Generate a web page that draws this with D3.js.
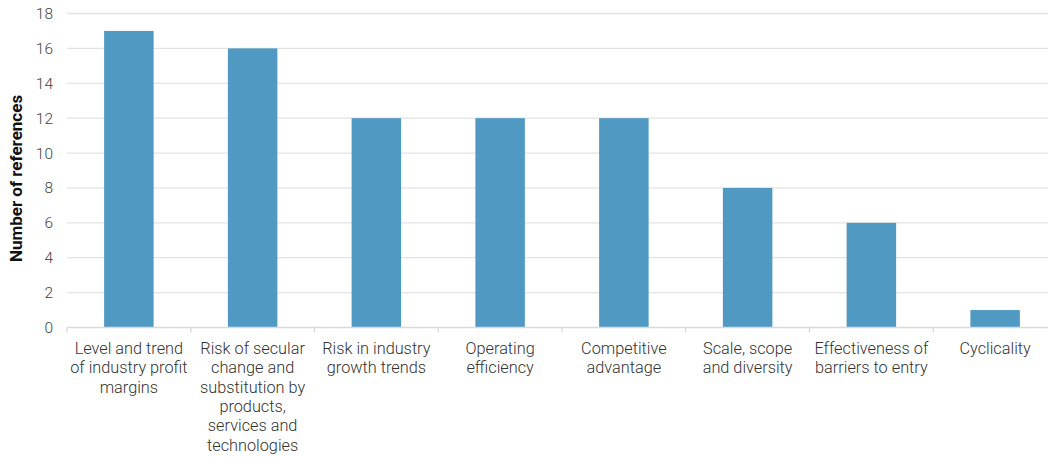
<!DOCTYPE html>
<html><head><meta charset="utf-8">
<script src="https://cdn.jsdelivr.net/npm/d3@7"></script>
<style>body{margin:0;background:#fff}svg{display:block}</style>
</head><body>
<script>
const categories = [
  "Level and trend|of industry profit|margins",
  "Risk of secular|change and|substitution by|products,|services and|technologies",
  "Risk in industry|growth trends",
  "Operating|efficiency",
  "Competitive|advantage",
  "Scale, scope|and diversity",
  "Effectiveness of|barriers to entry",
  "Cyclicality"
];
const values = [17, 16, 12, 12, 12, 8, 6, 1];
const yTicks = [0, 2, 4, 6, 8, 10, 12, 14, 16, 18];
const yTitle = "Number of references";

const W = 1048, H = 458;
const svg = d3.select("body").append("svg").attr("width", W).attr("height", H)
  .style("font-family", "Roboto, 'Noto Sans', sans-serif");

const x = d3.scaleBand().domain(d3.range(categories.length)).range([67, 1057]).paddingInner(0.6).paddingOuter(0.3);
const xb = d3.scaleBand().domain(d3.range(categories.length)).range([67, 1057]);
const y = d3.scaleLinear().domain([0, 18]).range([327.5, 13.5]);

// gridlines
svg.append("g").selectAll("line").data(yTicks.filter(d => d > 0)).join("line")
  .attr("x1", 67).attr("x2", W).attr("y1", d => y(d)).attr("y2", d => y(d))
  .attr("stroke", "#e3e3e3").attr("stroke-width", 1.3);

// y axis labels
const yAxis = svg.append("g").attr("transform", "translate(53,0)")
  .call(d3.axisLeft(y).tickValues(yTicks).tickSize(0).tickPadding(0));
yAxis.select(".domain").remove();
yAxis.selectAll("text").attr("font-size", 15.5).attr("fill", "#444").style("font-family", "Roboto, sans-serif").style("font-weight", 300);

// bars
svg.append("g").selectAll("rect").data(values).join("rect")
  .attr("x", (d, i) => x(i)).attr("width", x.bandwidth())
  .attr("y", d => y(d)).attr("height", d => y(0) - y(d))
  .attr("fill", "#4f99c2");

// x axis baseline and ticks
svg.append("line").attr("x1", 67).attr("x2", W).attr("y1", y(0)).attr("y2", y(0))
  .attr("stroke", "#d9d9d9").attr("stroke-width", 1.3);
svg.append("g").selectAll("line").data(d3.range(categories.length)).join("line")
  .attr("x1", i => xb(i)).attr("x2", i => xb(i)).attr("y1", y(0)).attr("y2", y(0) + 5)
  .attr("stroke", "#d9d9d9").attr("stroke-width", 1.3);

// category labels
const lab = svg.append("g").selectAll("text").data(categories).join("text")
  .attr("x", (d, i) => xb(i) + xb.bandwidth() / 2).attr("y", 354)
  .attr("text-anchor", "middle").attr("font-size", 16.3).attr("fill", "#333")
  .style("font-weight", 300);
lab.each(function(d) {
  const t = d3.select(this);
  d.split("|").forEach((s, k) => {
    t.append("tspan").attr("x", t.attr("x")).attr("dy", k === 0 ? 0 : 19.3).text(s);
  });
});

// y title
svg.append("text").attr("transform", `translate(22,${(y(0) + y(18)) / 2 + 8}) rotate(-90)`)
  .attr("text-anchor", "middle").attr("font-size", 17).attr("font-weight", "bold").attr("fill", "#111")
  .text(yTitle);
</script>
</body></html>
